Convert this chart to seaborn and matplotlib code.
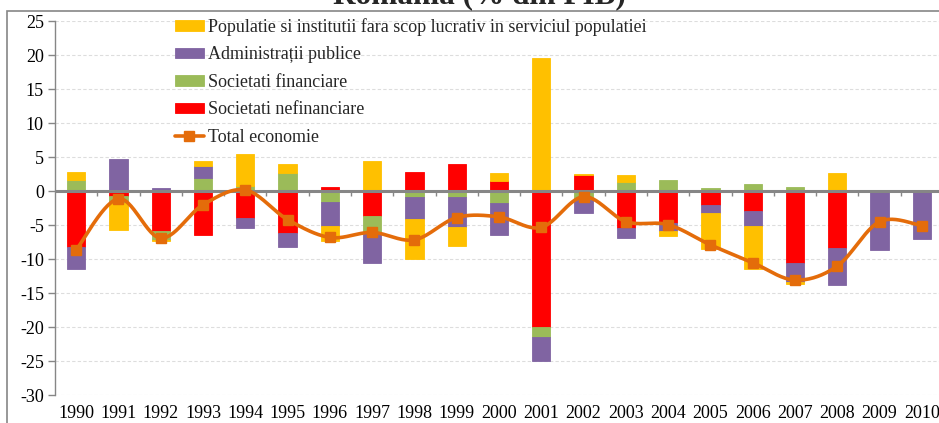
import numpy as np
import pandas as pd
import matplotlib
matplotlib.use("Agg")
import matplotlib.pyplot as plt
import seaborn as sns
from matplotlib.patches import Rectangle
from matplotlib.lines import Line2D

years = [str(y) for y in range(1990, 2011)]
nefinanciare = [-8.2, -0.74, -5.9, -6.44, -4.0, -6.24, 0.54, -3.61, 2.82, 4.0, 1.49,
                -20.0, 2.4, -5.4, -4.75, -2.08, -2.92, -10.6, -8.32, 0.0, 0.0]
financiare = [1.63, -1.0, -1.3, 1.93, 0.74, 2.72, -1.58, -2.43, -0.89, -0.89, -1.83,
              -1.49, -1.35, 1.39, 1.68, 0.5, 0.99, 0.54, 0.0, 0.0, 0.0]
administratii = [-3.2, 4.65, 0.45, 1.68, -1.39, -2.03, -3.52, -4.5, -3.27, -4.4, -4.7,
                 -3.5, -1.95, -1.53, -1.19, -1.19, -2.23, -2.72, -5.44, -8.71, -7.13]
populatie = [1.1, -4.06, -0.2, 0.74, 4.75, 1.24, -2.28, 4.4, -5.89, -2.77, 1.23,
             19.6, 0.1, 0.99, -0.69, -5.25, -6.39, -0.35, 2.62, 0.0, 0.0]
total = [-8.66, -1.14, -6.93, -2.03, 0.15, -4.2, -6.83, -6.09, -7.18, -3.9, -3.81,
         -5.35, -0.84, -4.5, -4.95, -7.92, -10.54, -13.1, -11.04, -4.5, -5.1]

labels = ["Societati nefinanciare", "Societati financiare",
          "Administrații publice",
          "Populatie si institutii fara scop lucrativ in serviciul populatiei"]
colors = ["#FF0000", "#9BBB59", "#8064A2", "#FFC000"]
line_color = "#E46C0A"

sns.set_theme(style="white")
plt.rcParams["font.family"] = ["Liberation Serif", "DejaVu Serif"]
FS = 13.0

fig = plt.figure(figsize=(9.39, 4.23), dpi=100)
W, H = 939, 423
ax = fig.add_axes([55 / W, (H - 395) / H, (943 - 55) / W, (395 - 21) / H])

x = np.arange(len(years))
series = [nefinanciare, financiare, administratii, populatie]
pos_bottom = np.zeros(len(years))
neg_bottom = np.zeros(len(years))
bar_handles = []
for vals, col, lab in zip(series, colors, labels):
    v = np.array(vals, dtype=float)
    bottom = np.where(v >= 0, pos_bottom, neg_bottom)
    b = ax.bar(x, v, width=0.43, bottom=bottom, color=col, edgecolor=col,
               linewidth=0.6, label=lab, zorder=2)
    bar_handles.append(b)
    pos_bottom = pos_bottom + np.where(v > 0, v, 0)
    neg_bottom = neg_bottom + np.where(v < 0, v, 0)

# smooth line (Excel-style Bezier smoothing) through the totals
t = np.array(total, dtype=float)
px, py = [], []
n = len(t)
for i in range(n - 1):
    p0 = t[max(i - 1, 0)]
    p1 = t[i]
    p2 = t[i + 1]
    p3 = t[min(i + 2, n - 1)]
    x0 = x[max(i - 1, 0)]
    x1 = x[i]
    x2 = x[i + 1]
    x3 = x[min(i + 2, n - 1)]
    cx1, cy1 = x1 + (x2 - x0) / 6, p1 + (p2 - p0) / 6
    cx2, cy2 = x2 - (x3 - x1) / 6, p2 - (p3 - p1) / 6
    s = np.linspace(0, 1, 30, endpoint=(i == n - 2))
    bx = (1 - s) ** 3 * x1 + 3 * (1 - s) ** 2 * s * cx1 + 3 * (1 - s) * s ** 2 * cx2 + s ** 3 * x2
    by = (1 - s) ** 3 * p1 + 3 * (1 - s) ** 2 * s * cy1 + 3 * (1 - s) * s ** 2 * cy2 + s ** 3 * p2
    px.extend(bx)
    py.extend(by)
smooth = pd.DataFrame({"x": px, "y": py})
sns.lineplot(data=smooth, x="x", y="y", ax=ax, color=line_color, linewidth=2.6,
             zorder=4, sort=False, estimator=None)
ax.plot(x, t, linestyle="none", marker="s", markersize=7.5, color=line_color,
        markeredgecolor=line_color, zorder=5)

ax.set_xlim(-0.5, len(years) - 0.5)
ax.set_ylim(-30, 25)
ax.set_yticks(np.arange(-30, 26, 5))
ax.set_yticklabels([str(v) for v in range(-30, 26, 5)], fontsize=FS)
ax.set_xticks(x)
ax.set_xticklabels(years, fontsize=FS)
ax.set_xlabel("")
ax.set_ylabel("")
ax.tick_params(axis="x", length=0, pad=7, colors="black")
ax.tick_params(axis="y", length=5, width=1, color="#868686", pad=3, direction="out",
               left=True)
for lab in ax.get_xticklabels() + ax.get_yticklabels():
    lab.set_color("black")

ax.yaxis.grid(True, color="#DDDDDD", linestyle=(0, (3, 2)), linewidth=0.8, zorder=0)
ax.xaxis.grid(False)
for side in ["top", "right", "bottom"]:
    ax.spines[side].set_visible(False)
ax.spines["left"].set_color("#868686")
ax.spines["left"].set_linewidth(1.0)

# zero axis line with category boundary ticks
ax.axhline(0, color="#868686", linewidth=2.2, zorder=3)
for b in np.arange(0.5, len(years) - 0.5, 1):
    ax.plot([b, b], [0, -0.75], color="#868686", linewidth=1.0, zorder=3,
            solid_capstyle="butt")

# legend
line_handle = Line2D([0], [0], color=line_color, linewidth=2.6, marker="s",
                     markersize=7.5)
handles = bar_handles[::-1] + [line_handle]
leg_labels = labels[::-1] + ["Total economie"]
leg = ax.legend(handles, leg_labels, loc="upper left",
                bbox_to_anchor=((175 - 55) / (943 - 55), 1.008),
                frameon=False, fontsize=FS, handlelength=1.6, handleheight=0.5,
                handletextpad=0.2, labelspacing=0.58, borderaxespad=0,
                borderpad=0)

# outer chart border (partly cut off) and title
fig.add_artist(Rectangle((7 / W, -0.1), 1.2, 1 - 11.5 / H + 0.1,
                         transform=fig.transFigure, fill=False,
                         edgecolor="#868686", linewidth=1.2))
fig.text(479 / W, 1 - 3 / H, "Romania (% din PIB)", ha="center", va="baseline",
         fontsize=22.5, fontweight="bold")

fig.savefig("out.png", dpi=100)
